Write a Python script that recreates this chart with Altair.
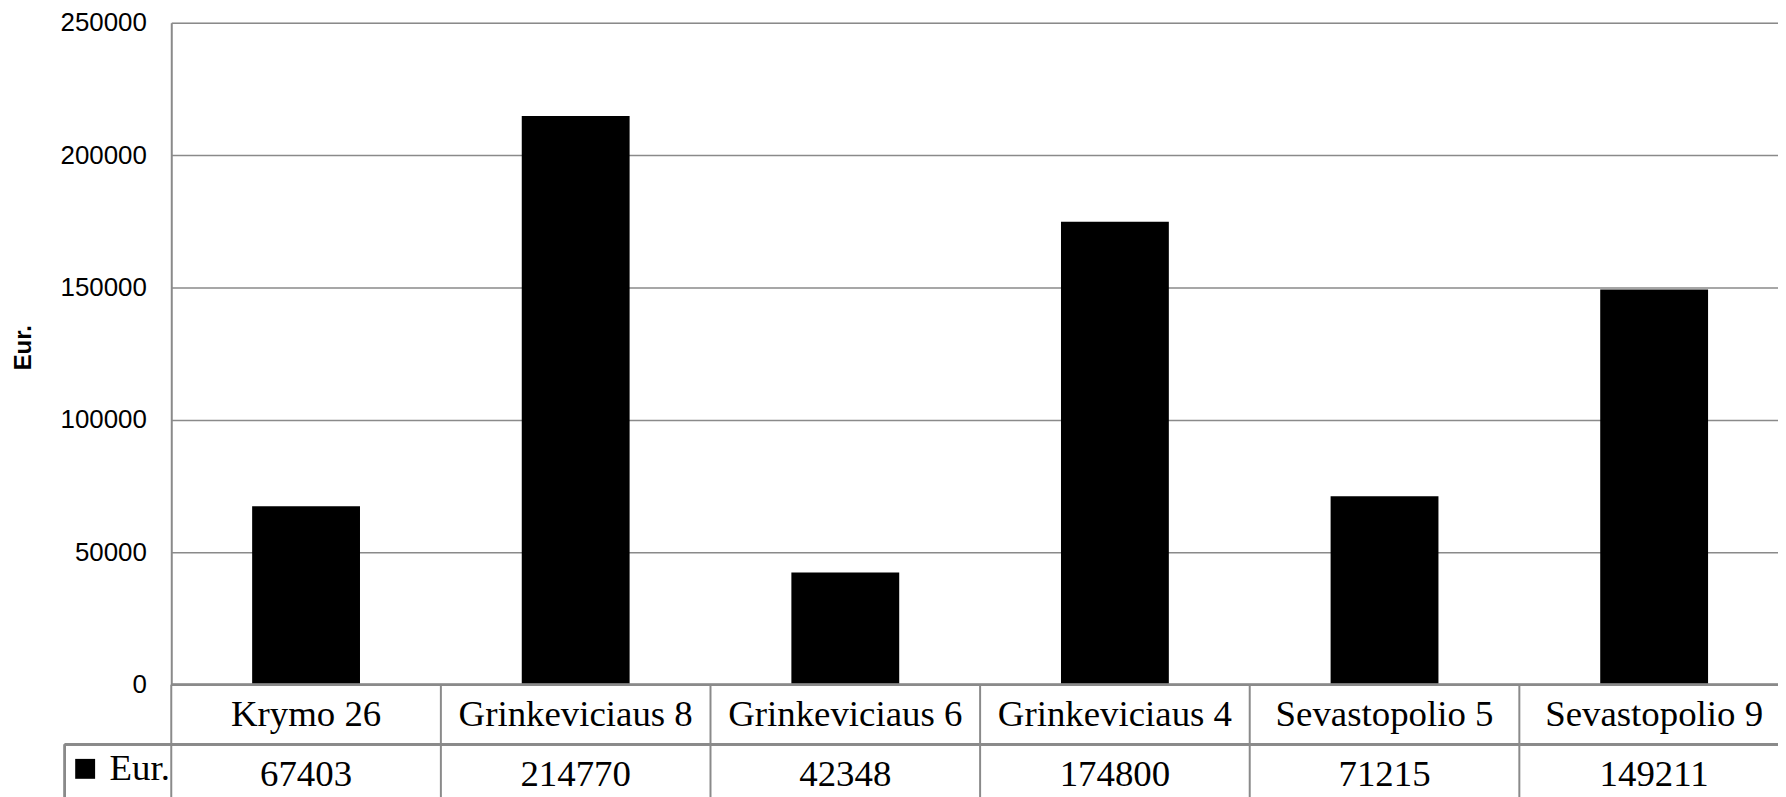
import altair as alt
import pandas as pd

categories = ["Krymo 26", "Grinkeviciaus 8", "Grinkeviciaus 6", "Grinkeviciaus 4", "Sevastopolio 5", "Sevastopolio 9"]
values = [67403, 214770, 42348, 174800, 71215, 149211]
series_name = "Eur."
y_ticks = [0, 50000, 100000, 150000, 200000, 250000]

df = pd.DataFrame({"cat": categories, "value": values, "series": [series_name] * len(categories)})

GRAY = "#8a8a8a"
W, H = 1614, 665
STEP_RANGE = 1625

base = alt.Chart(df).transform_calculate(lab="datum.cat + '|' + datum.value")

xenc = alt.X(
    "lab:N",
    sort=None,
    scale=alt.Scale(range=[0, STEP_RANGE], paddingInner=0, paddingOuter=0, round=False),
    axis=alt.Axis(
        title=None,
        labelExpr="split(datum.label, '|')",
        labelFont="Liberation Serif",
        labelFontSize=37,
        labelLineHeight=60,
        labelColor="black",
        labelBaseline="middle",
        labelPadding=30,
        labelAngle=0,
        labelOverlap=False,
        labelLimit=0,
        ticks=False,
        tickSize=0,
        domain=False,
    ),
)

bars = base.mark_bar(width=alt.RelativeBandSize(0.4), color="black").encode(
    x=xenc,
    y=alt.Y(
        "value:Q",
        scale=alt.Scale(domain=[0, 250000], nice=False),
        axis=alt.Axis(
            title="Eur.",
            titleFont="Liberation Sans",
            titleFontSize=24,
            titleFontWeight="bold",
            titleColor="black",
            titleAngle=-90,
            titleX=-148,
            titleY=326,
            titleAlign="center",
            titleBaseline="middle",
            values=y_ticks,
            format="d",
            labelFont="Liberation Sans",
            labelFontSize=26,
            labelColor="black",
            labelPadding=25,
            ticks=False,
            tickSize=0,
            domain=True,
            domainColor=GRAY,
            domainWidth=2,
            grid=True,
            gridColor=GRAY,
            gridWidth=1.5,
        ),
    ),
    color=alt.Color(
        "series:N",
        scale=alt.Scale(range=["black"]),
        legend=alt.Legend(
            title=None,
            orient="none",
            legendX=-105,
            legendY=731,
            padding=0,
            offset=0,
            symbolType="square",
            symbolSize=400,
            symbolStrokeWidth=0,
            labelFont="Liberation Serif",
            labelFontSize=37,
            labelColor="black",
            labelOffset=6,
        ),
    ),
)

separators = base.mark_rule(color=GRAY, strokeWidth=2).encode(
    x=alt.X("lab:N", sort=None, bandPosition=0),
    y=alt.value(H),
    y2=alt.value(H + 125),
)

zero_line = alt.Chart(df).mark_rule(color=GRAY, strokeWidth=2).encode(
    x=alt.value(0), x2=alt.value(W), y=alt.value(H)
)
hline = alt.Chart(df).mark_rule(color=GRAY, strokeWidth=2).encode(
    x=alt.value(-107), x2=alt.value(W), y=alt.value(725)
)
vline = alt.Chart(df).mark_rule(color=GRAY, strokeWidth=2).encode(
    x=alt.value(-107), y=alt.value(725), y2=alt.value(H + 125)
)

chart = (
    alt.layer(bars, separators, zero_line, hline, vline)
    .properties(
        width=W,
        height=H,
        autosize=alt.AutoSizeParams(type="none"),
        padding={"left": 164, "top": 13, "right": 0, "bottom": 111},
    )
    .configure_view(stroke=None)
    .configure(background="white")
)

chart.save("out.html", embed_options={"renderer": "svg", "actions": False})
